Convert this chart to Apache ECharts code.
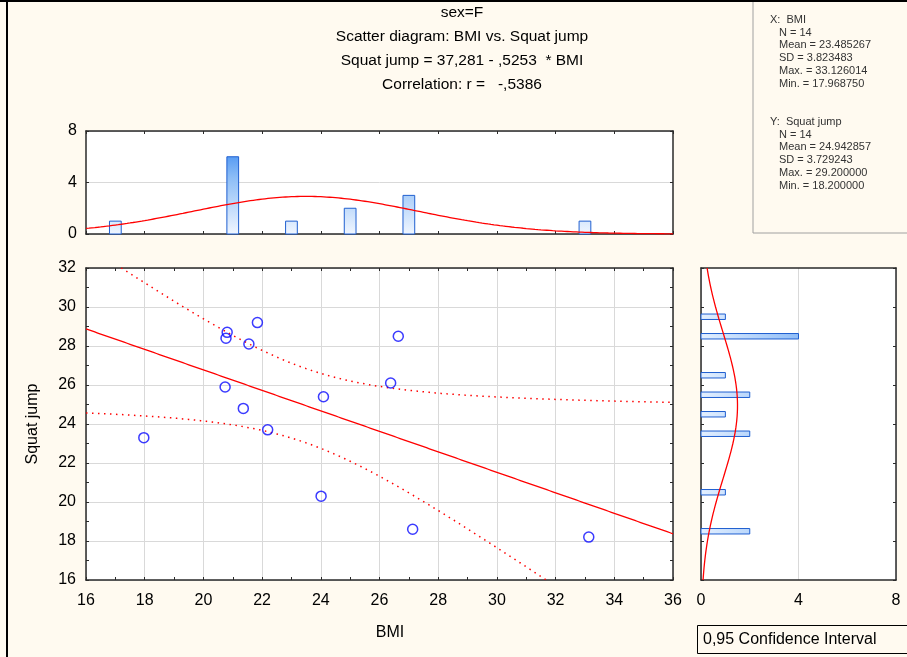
<!DOCTYPE html>
<html><head><meta charset="utf-8">
<script src="https://cdn.jsdelivr.net/npm/echarts@6/dist/echarts.min.js"></script>
<style>html,body{margin:0;padding:0;background:#fffaf0;}#c{width:907px;height:657px;}</style>
</head><body><div id="c"></div>
<script>
// ---- data ----
const bmi       = [17.97, 20.81, 20.77, 21.84, 21.55, 20.74, 21.36, 22.19, 24.09, 24.01, 26.64, 26.38, 27.13, 33.13];
const squatJump = [23.3, 28.7, 28.4, 29.2, 28.1, 25.9, 24.8, 23.7, 25.4, 20.3, 28.5, 26.1, 18.6, 18.2];
const bmiBinCenters = [17, 21, 23, 25, 27, 33];
const bmiBinCounts  = [1, 6, 1, 2, 3, 1];
const sjBinCenters  = [18.5, 20.5, 23.5, 24.5, 25.5, 26.5, 28.5, 29.5];
const sjBinCounts   = [2, 1, 2, 1, 2, 1, 4, 1];
const bmiTicks = [16, 18, 20, 22, 24, 26, 28, 30, 32, 34, 36];
const sjTicks  = [16, 18, 20, 22, 24, 26, 28, 30, 32];
const countTicks = [0, 4, 8];
// statistics printed on the chart
const intercept = 37.281, slope = -0.5253, corr = -0.5386;
const nObs = 14;
const xMean = 23.485267, xSD = 3.823483, xMax = 33.126014, xMin = 17.968750;
const yMean = 24.942857, ySD = 3.729243, yMax = 29.200000, yMin = 18.200000;
const bmiBinWidth = 2, sjBinWidth = 1, tCrit = 2.1788;

// ---- derived curves (fit line, confidence band, normal fits) ----
function pdf(v, m, s){ return Math.exp(-0.5*((v-m)/s)**2)/(s*Math.sqrt(2*Math.PI)); }
const sxx = bmi.reduce((a,v)=>a+(v-xMean)**2,0);
const sse = bmi.reduce((a,v,i)=>a+(squatJump[i]-(intercept+slope*v))**2,0);
const sRes = Math.sqrt(sse/(nObs-2));
const fitLine=[], ciUp=[], ciLo=[], topNorm=[], sideNorm=[];
for(let x=bmiTicks[0]; x<=bmiTicks[bmiTicks.length-1]+1e-9; x+=0.1){
  const yh = intercept+slope*x;
  const h = tCrit*sRes*Math.sqrt(1/nObs+(x-xMean)**2/sxx);
  fitLine.push([x,yh]); ciUp.push([x,yh+h]); ciLo.push([x,yh-h]);
  topNorm.push([x, nObs*bmiBinWidth*pdf(x,xMean,xSD)]);
}
for(let y=sjTicks[0]; y<=sjTicks[sjTicks.length-1]+1e-9; y+=0.1){
  sideNorm.push([nObs*sjBinWidth*pdf(y,yMean,ySD), y]);
}

const FONT='"Liberation Sans", Arial, sans-serif';
const AX='#2a2a2a', GC='#d9d9d9', RED='#ff0000';
const lbl={show:true,fontSize:16,color:'#000',fontFamily:FONT};
function ax(o){
  return Object.assign({type:'value',
    axisLine:{show:true,onZero:false,lineStyle:{color:AX,width:1.5}},
    axisTick:{show:true,inside:true,length:3,lineStyle:{color:AX,width:1}},
    axisLabel:{show:false}, splitLine:{show:false}}, o);
}
const minor={show:true,splitNumber:2,length:3,lineStyle:{color:AX,width:1}};
const bx=[bmiTicks[0],bmiTicks[bmiTicks.length-1],bmiTicks[1]-bmiTicks[0]];
const sy=[sjTicks[0],sjTicks[sjTicks.length-1],sjTicks[1]-sjTicks[0]];
const ct=[countTicks[0],countTicks[countTicks.length-1],countTicks[1]-countTicks[0]];

const chart=echarts.init(document.getElementById('c'),null,{renderer:'canvas',width:907,height:657});
const statsX=['X:  BMI','N = '+nObs,'Mean = '+xMean.toFixed(6),'SD = '+xSD.toFixed(6),'Max. = '+xMax.toFixed(6),'Min. = '+xMin.toFixed(6)];
const statsY=['Y:  Squat jump','N = '+nObs,'Mean = '+yMean.toFixed(6),'SD = '+ySD.toFixed(6),'Max. = '+yMax.toFixed(6),'Min. = '+yMin.toFixed(6)];
const g=[];
g.push({type:'rect',shape:{x:753,y:-2,width:170,height:235},style:{fill:'#fffaf0',stroke:'#a0a0a0',lineWidth:1},z:1});
statsX.forEach((t,i)=>g.push({type:'text',x:i?779:770,y:20+i*12.7,style:{text:t,font:'11px '+FONT,fill:'#333',verticalAlign:'middle'},z:2}));
statsY.forEach((t,i)=>g.push({type:'text',x:i?779:770,y:122+i*12.7,style:{text:t,font:'11px '+FONT,fill:'#333',verticalAlign:'middle'},z:2}));
const titles=['sex=F','Scatter diagram: BMI vs. Squat jump','Squat jump = 37,281 - ,5253  * BMI','Correlation: r =   -,5386'];
titles.forEach((t,i)=>g.push({type:'text',x:462,y:13+i*24,style:{text:t,font:'15.5px '+FONT,fill:'#000',align:'center',verticalAlign:'middle'}}));
g.push({type:'text',x:390,y:633,style:{text:'BMI',font:'16px '+FONT,fill:'#000',align:'center',verticalAlign:'middle'}});
g.push({type:'text',x:33,y:424,rotation:Math.PI/2,style:{text:'Squat jump',font:'16px '+FONT,fill:'#000',align:'center',verticalAlign:'middle'}});
g.push({type:'rect',shape:{x:697.5,y:625.5,width:220,height:28},style:{fill:'#fffaf0',stroke:'#000',lineWidth:1}});
g.push({type:'text',x:703,y:640,style:{text:'0,95 Confidence Interval',font:'16px '+FONT,fill:'#000',verticalAlign:'middle'}});
g.push({type:'rect',shape:{x:0,y:0,width:907,height:2},style:{fill:'#000'},z:5});
g.push({type:'rect',shape:{x:6,y:0,width:2,height:657},style:{fill:'#000'},z:5});

const option={
  animation:false,
  backgroundColor:'#fffaf0',
  graphic:g,
  grid:[
    {left:86,top:131,width:587,height:103,show:true,backgroundColor:'#fff',borderWidth:0,containLabel:false,outerBoundsMode:'none'},
    {left:86,top:268,width:587,height:312,show:true,backgroundColor:'#fff',borderWidth:0,containLabel:false,outerBoundsMode:'none'},
    {left:701,top:268,width:195,height:312,show:true,backgroundColor:'#fff',borderWidth:0,containLabel:false,outerBoundsMode:'none'}
  ],
  xAxis:[
    ax({gridIndex:0,position:'bottom',min:bx[0],max:bx[1],interval:bx[2]}),
    ax({gridIndex:0,position:'top',min:bx[0],max:bx[1],interval:bx[2]}),
    ax({gridIndex:1,position:'bottom',min:bx[0],max:bx[1],interval:bx[2],axisLabel:Object.assign({},lbl,{margin:13}),splitLine:{show:true,lineStyle:{color:GC,width:1}},minorTick:minor}),
    ax({gridIndex:1,position:'top',min:bx[0],max:bx[1],interval:bx[2],minorTick:minor}),
    ax({gridIndex:2,position:'bottom',min:ct[0],max:ct[1],interval:ct[2],axisTick:{show:false},axisLabel:Object.assign({},lbl,{margin:13}),splitLine:{show:true,lineStyle:{color:GC,width:1}}}),
    ax({gridIndex:2,position:'top',min:ct[0],max:ct[1],interval:ct[2],axisTick:{show:false}})
  ],
  yAxis:[
    ax({gridIndex:0,position:'left',min:ct[0],max:ct[1],interval:ct[2],axisLabel:Object.assign({},lbl,{margin:9}),splitLine:{show:true,lineStyle:{color:GC,width:1}}}),
    ax({gridIndex:0,position:'right',min:ct[0],max:ct[1],interval:ct[2]}),
    ax({gridIndex:1,position:'left',min:sy[0],max:sy[1],interval:sy[2],axisLabel:Object.assign({},lbl,{margin:10}),splitLine:{show:true,lineStyle:{color:GC,width:1}},minorTick:minor}),
    ax({gridIndex:1,position:'right',min:sy[0],max:sy[1],interval:sy[2],minorTick:minor}),
    ax({gridIndex:2,position:'left',min:sy[0],max:sy[1],interval:sy[2]}),
    ax({gridIndex:2,position:'right',min:sy[0],max:sy[1],interval:sy[2]})
  ],
  series:[
    {type:'custom',xAxisIndex:0,yAxisIndex:0,encode:{x:0,y:1},
     data:bmiBinCenters.map((c,i)=>[c,bmiBinCounts[i]]),
     renderItem:(p,api)=>{
       const c=api.value(0),n=api.value(1);
       const a=api.coord([c-0.2,n]), b=api.coord([c+0.2,0]);
       const t=api.coord([c,ct[1]])[1], bt=api.coord([c,0])[1];
       return {type:'rect',shape:{x:a[0],y:a[1],width:b[0]-a[0],height:b[1]-a[1]},
         style:{fill:new echarts.graphic.LinearGradient(0,t,0,bt,[{offset:0,color:'#1a74f0'},{offset:0.45,color:'#8cbdf6'},{offset:1,color:'#f0f6ff'}],true),stroke:'#1f5fd0',lineWidth:1}};
     },z:2},
    {type:'line',xAxisIndex:0,yAxisIndex:0,data:topNorm,showSymbol:false,smooth:false,lineStyle:{color:RED,width:1.3},z:3},
    {type:'line',xAxisIndex:2,yAxisIndex:2,data:ciUp,showSymbol:false,lineStyle:{color:RED,width:1.5,type:[1.5,4.5]},z:3},
    {type:'line',xAxisIndex:2,yAxisIndex:2,data:ciLo,showSymbol:false,lineStyle:{color:RED,width:1.5,type:[1.5,4.5]},z:3},
    {type:'line',xAxisIndex:2,yAxisIndex:2,data:fitLine,showSymbol:false,lineStyle:{color:RED,width:1.3},z:3},
    {type:'scatter',xAxisIndex:2,yAxisIndex:2,data:bmi.map((v,i)=>[v,squatJump[i]]),symbol:'circle',symbolSize:10,
     itemStyle:{color:'rgba(0,0,0,0)',borderColor:'#0a0aff',borderWidth:1.5},z:4},
    {type:'custom',xAxisIndex:4,yAxisIndex:4,encode:{x:0,y:1},
     data:sjBinCenters.map((c,i)=>[sjBinCounts[i],c]),
     renderItem:(p,api)=>{
       const n=api.value(0),c=api.value(1);
       const a=api.coord([0,c+0.14]), b=api.coord([n,c-0.14]);
       const l=api.coord([0,c])[0], r=api.coord([ct[1],c])[0];
       return {type:'rect',shape:{x:a[0],y:a[1],width:b[0]-a[0],height:b[1]-a[1]},
         style:{fill:new echarts.graphic.LinearGradient(l,0,r,0,[{offset:0,color:'#e4f0ff'},{offset:1,color:'#3d8cf0'}],true),stroke:'#1f5fd0',lineWidth:1}};
     },z:2},
    {type:'line',xAxisIndex:4,yAxisIndex:4,data:sideNorm,showSymbol:false,lineStyle:{color:RED,width:1.3},z:3}
  ]
};
chart.setOption(option);
</script></body></html>
